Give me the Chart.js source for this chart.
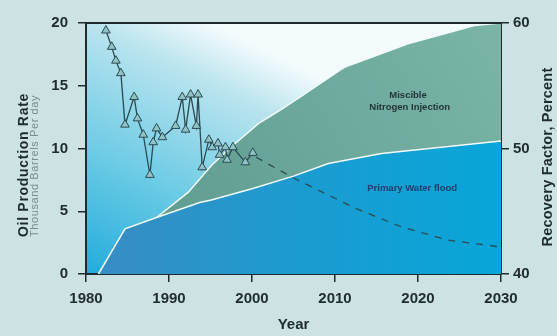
<!DOCTYPE html>
<html>
<head>
<meta charset="utf-8">
<script src="https://cdn.jsdelivr.net/npm/chart.js@4.4.1/dist/chart.umd.min.js"></script>
<style>
  html, body { margin: 0; padding: 0; background: #cde3e3; }
  #wrap { width: 557px; height: 336px; }
</style>
</head>
<body>
<div id="wrap"><canvas id="chart" width="557" height="336"></canvas></div>
<script>
// production history (thousand barrels per day)
const prodYears = [1982.4, 1983.1, 1983.6, 1984.2, 1984.7, 1985.8, 1986.2, 1986.9, 1987.7, 1988.1,
  1988.5, 1989.2, 1990.8, 1991.6, 1992.0, 1992.6, 1993.3, 1993.5, 1994.0, 1994.8,
  1995.2, 1995.9, 1996.1, 1996.8, 1997.0, 1997.7, 1999.2, 2000.1];
const prodRate = [19.4, 18.1, 17.0, 16.0, 11.9, 14.1, 12.4, 11.1, 7.9, 10.5,
  11.6, 10.9, 11.8, 14.1, 11.5, 14.3, 11.8, 14.3, 8.5, 10.7,
  10.1, 10.4, 9.5, 10.1, 9.1, 10.1, 8.9, 9.65];

// forecast decline (dashed)
const forecastYears = [2000.5, 2005, 2012.4, 2018, 2023.6, 2030];
const forecastRate = [9.3, 7.65, 5.25, 3.76, 2.7, 2.15];

// recovery factor, percent
const waterYears = [1981.5, 1984.7, 1988.5, 1993.7, 1995.1, 2000, 2005, 2009.2, 2015.6, 2030];
const waterRecovery = [40, 43.6, 44.5, 45.7, 45.9, 46.8, 47.8, 48.8, 49.6, 50.6];
const nitroYears = [1988.5, 1992.3, 1995.2, 1997.8, 2000.8, 2003.5, 2006, 2011.2, 2018.8, 2026.8, 2030];
const nitroRecovery = [44.5, 46.5, 48.7, 50.3, 52.0, 53.1, 54.2, 56.5, 58.35, 59.8, 60];

const ink = "#1f2b2f";
const pts = (xs, ys) => xs.map((x, i) => ({ x, y: ys[i] }));

Chart.defaults.font.family = "'Liberation Sans', Arial, sans-serif";

function gradWater(c) {
  const a = c.chart.chartArea;
  if (!a) return "#1a9fd2";
  const g = c.chart.ctx.createLinearGradient(a.left, 0, a.right, 0);
  g.addColorStop(0, "#3a8cc2");
  g.addColorStop(0.5, "#1c9bd0");
  g.addColorStop(1, "#08a6d9");
  return g;
}
function gradNitro(c) {
  const a = c.chart.chartArea;
  if (!a) return "#67a596";
  const g = c.chart.ctx.createLinearGradient(a.left, a.bottom, a.right, a.top);
  g.addColorStop(0, "#5a988c");
  g.addColorStop(1, "#7ab5a7");
  return g;
}

const plotBg = {
  id: "plotBg",
  beforeDraw(chart) {
    const { ctx, chartArea: a } = chart;
    const g = ctx.createLinearGradient(a.left, a.bottom, a.left + a.width * 0.3, a.top);
    g.addColorStop(0, "#22acdc");
    g.addColorStop(0.4, "#6ccbe5");
    g.addColorStop(0.8, "#b8e3ee");
    g.addColorStop(1, "#f4fbfc");
    ctx.save();
    ctx.fillStyle = g;
    ctx.fillRect(a.left, a.top, a.width, a.height);
    ctx.restore();
  }
};

const texts = {
  id: "texts",
  afterDraw(chart) {
    const { ctx, chartArea: a } = chart;
    const xs = chart.scales.x, ys = chart.scales.y;
    ctx.save();
    // top frame line
    ctx.strokeStyle = ink;
    ctx.lineWidth = 2;
    ctx.beginPath();
    ctx.moveTo(a.left - 1, a.top);
    ctx.lineTo(a.right + 1, a.top);
    ctx.stroke();

    function vtext(s, x, y, font, color, spacing) {
      ctx.save();
      ctx.translate(x, y);
      ctx.rotate(-Math.PI / 2);
      ctx.font = font;
      ctx.fillStyle = color;
      ctx.letterSpacing = spacing;
      ctx.textAlign = "center";
      ctx.textBaseline = "alphabetic";
      ctx.fillText(s, 0, 0);
      ctx.restore();
    }
    vtext("Oil Production Rate", 28, 165, "bold 14px 'Liberation Sans', Arial", ink, "0.7px");
    vtext("Thousand Barrels Per day", 38, 166, "11px 'Liberation Sans', Arial", "#7b8c8f", "0.6px");
    vtext("Recovery Factor, Percent", 552, 157, "bold 14.5px 'Liberation Sans', Arial", ink, "0.2px");

    ctx.textAlign = "center";
    ctx.textBaseline = "middle";
    ctx.font = "bold 9.5px 'Liberation Sans', Arial";
    ctx.fillStyle = "#24343a";
    ctx.fillText("Miscible", xs.getPixelForValue(2018.8), ys.getPixelForValue(14.2));
    ctx.fillText("Nitrogen Injection", xs.getPixelForValue(2019), ys.getPixelForValue(13.3));
    ctx.fillStyle = "#1d3c68";
    ctx.fillText("Primary Water flood", xs.getPixelForValue(2019.3), ys.getPixelForValue(6.8));
    ctx.restore();
  }
};

const axisGrid = { drawOnChartArea: false, drawTicks: true, tickLength: 8, color: ink, lineWidth: 1.5 };
const axisBorder = { display: true, color: ink, width: 2 };
const tickFont = { size: 15, weight: "bold" };

new Chart(document.getElementById("chart"), {
  type: "line",
  data: {
    datasets: [
      {
        data: pts(prodYears, prodRate), yAxisID: "y",
        borderColor: "#2b4a52", borderWidth: 1.3, tension: 0, fill: false,
        pointStyle: "triangle", pointRadius: 5, pointBackgroundColor: "#8fc3c6",
        pointBorderColor: "#2b4a52", pointBorderWidth: 1, order: 0
      },
      {
        data: pts(forecastYears, forecastRate), yAxisID: "y",
        borderColor: "#2b4a52", borderWidth: 1.3, borderDash: [7, 7], pointRadius: 0,
        fill: false, order: 1
      },
      {
        data: pts(waterYears, waterRecovery), yAxisID: "yR",
        borderColor: "#f2fafb", borderWidth: 1.5, pointRadius: 0,
        fill: "start", backgroundColor: gradWater, order: 2
      },
      {
        data: pts(nitroYears, nitroRecovery), yAxisID: "yR",
        borderColor: "#f2fafb", borderWidth: 1.5, pointRadius: 0,
        fill: "start", backgroundColor: gradNitro, order: 3
      }
    ]
  },
  options: {
    responsive: false,
    animation: false,
    layout: { padding: { top: 23, left: 0, right: 0, bottom: 0 } },
    plugins: { legend: { display: false }, tooltip: { enabled: false } },
    scales: {
      x: {
        type: "linear", min: 1980, max: 2030,
        ticks: { stepSize: 10, color: ink, font: tickFont, padding: 8, callback: (v) => String(v) },
        grid: axisGrid, border: axisBorder,
        title: { display: true, text: "Year", color: ink, font: { size: 15, weight: "bold" }, padding: { top: 0, bottom: 2 } },
        afterFit: (s) => { s.height = 62; }
      },
      y: {
        position: "left", min: 0, max: 20,
        ticks: { stepSize: 5, color: ink, font: tickFont, padding: 10 },
        grid: axisGrid, border: axisBorder,
        afterFit: (s) => { s.width = 86; }
      },
      yR: {
        position: "right", min: 40, max: 60,
        ticks: { stepSize: 10, color: ink, font: tickFont, padding: 4 },
        grid: axisGrid, border: axisBorder,
        afterFit: (s) => { s.width = 56; }
      }
    }
  },
  plugins: [plotBg, texts]
});
</script>
</body>
</html>
